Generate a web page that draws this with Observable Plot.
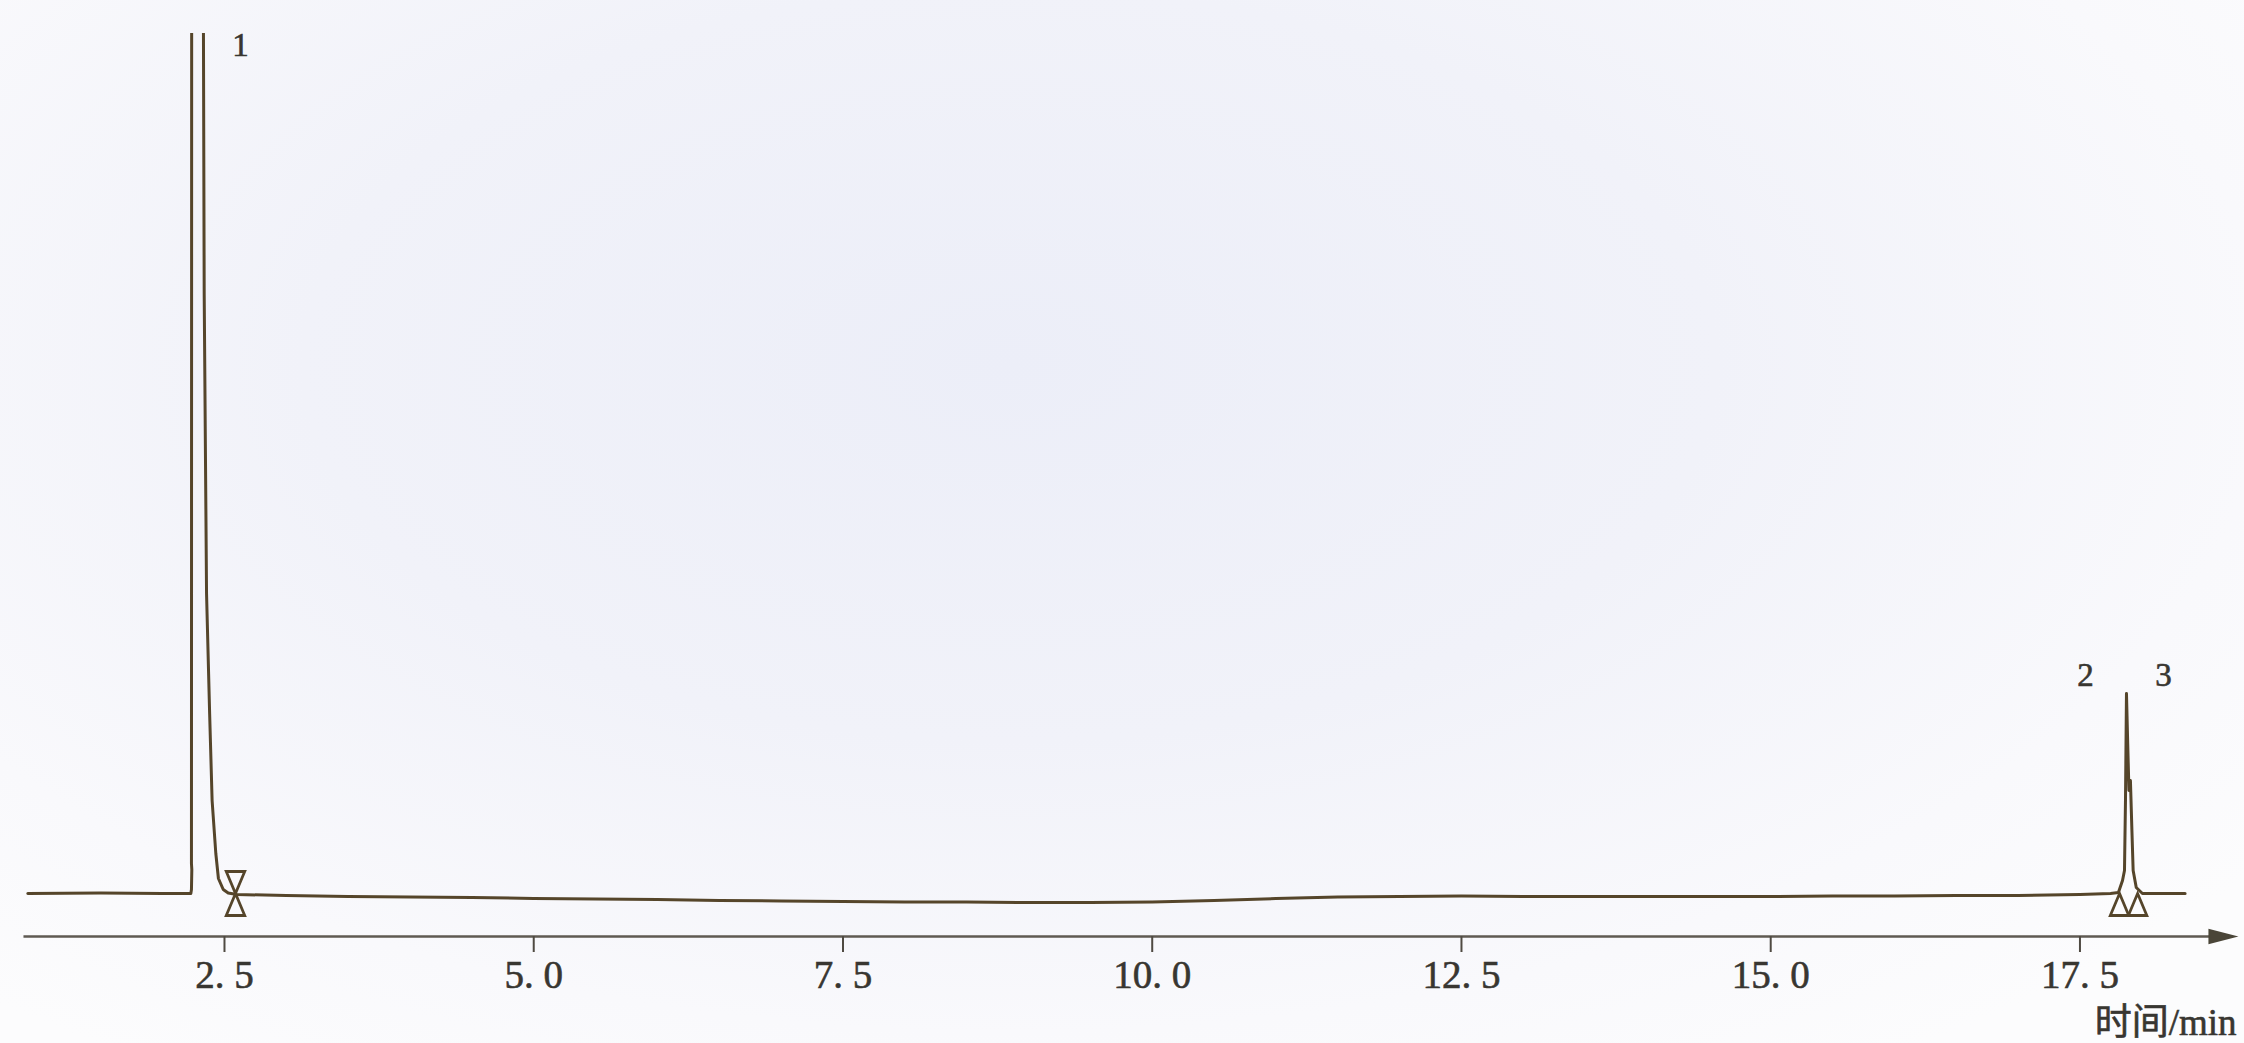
<!DOCTYPE html>
<html>
<head>
<meta charset="utf-8">
<script src="https://cdn.jsdelivr.net/npm/d3@7"></script>
<script src="https://cdn.jsdelivr.net/npm/@observablehq/plot@0.6"></script>
<style>
html, body { margin: 0; padding: 0; }
body {
  width: 2244px; height: 1043px; overflow: hidden;
  background: radial-gradient(ellipse 70% 80% at 45% 35%, #eceef8 0%, #f1f2f9 45%, #f9f9fc 80%, #fcfcfd 100%);
}
#chart svg { display: block; }
#chart svg text { stroke: #383631; stroke-width: 0.6px; }
</style>
</head>
<body>
<div id="chart"></div>
<script>
// Retention time (min) and detector signal (arbitrary units)
const time = [
  0.91, 1.5, 2.0, 2.228, 2.233, 2.236, 2.233, 2.235, 2.28, 2.330, 2.336, 2.355, 2.38, 2.400, 2.43, 2.451, 2.49, 2.53,
  2.6, 3.0, 3.5, 4.0, 4.5, 5.0, 5.5, 6.0, 6.5, 7.0, 7.5, 8.0, 8.5, 9.0, 9.5, 10.0, 10.5, 11.0, 11.5, 12.0, 12.5,
  13.0, 13.5, 14.0, 14.5, 15.0, 15.5, 16.0, 16.5, 17.0, 17.5, 17.747, 17.811, 17.844, 17.860, 17.868, 17.876,
  17.886, 17.896, 17.908, 17.920, 17.930, 17.955, 18.005, 18.35
];
const signal = [
  0, 0.05, 0, 0, 0.4, 2.4, 3.0, 100, 400, 86, 60, 30, 18, 9.3, 4, 1.5, 0.4, 0.05,
  -0.1, -0.2, -0.3, -0.35, -0.4, -0.5, -0.55, -0.6, -0.7, -0.75, -0.8, -0.85, -0.85, -0.9, -0.9, -0.85, -0.7, -0.5, -0.35, -0.3, -0.25,
  -0.3, -0.3, -0.3, -0.3, -0.3, -0.25, -0.25, -0.2, -0.2, -0.1, 0, 0.1, 1.3, 2.3, 9.3, 20,
  15, 10.3, 11.3, 6.3, 2.3, 0.6, 0, 0
];

const tickValues = [2.5, 5.0, 7.5, 10.0, 12.5, 15.0, 17.5];
const tickLabels = ["2. 5", "5. 0", "7. 5", "10. 0", "12. 5", "15. 0", "17. 5"];

const peakLabels = ["1", "2", "3"];
const peakLabelTime = [2.63, 17.545, 18.175];
const peakLabelSignal = [84.8, 21.8, 21.8];

const markerTime = [2.589, 2.589, 17.820, 17.966];
const markerSide = ["above", "below", "below", "below"];

const axisLabel = "时间/min";
const axisStart = 0.875;
const axisEnd = 18.781;

// ---- build tables ----
const trace = time.map((t, i) => ({t, s: signal[i]}));
const peaks = peakLabels.map((label, i) => ({label, t: peakLabelTime[i], s: peakLabelSignal[i]}));
const markers = markerTime.map((t, i) => ({t, side: markerSide[i]}));

const xDomain = [0.851, 18.814];
const yDomain = [-4.3, 86.0];
const traceColor = "#55452a";
const inkColor = "#383631";

// narrow triangle with its tip at the anchor point, body hanging below
const tipTriangle = {
  draw(context, size) {
    const r = Math.sqrt(size / Math.PI);
    const w = r * 0.42;
    context.moveTo(0, 0);
    context.lineTo(w, r);
    context.lineTo(-w, r);
    context.closePath();
  }
};
// arrow head with its tip at the anchor point, pointing right
const arrowHead = {
  draw(context, size) {
    const r = Math.sqrt(size / Math.PI);
    context.moveTo(0, 0);
    context.lineTo(-r, -r * 0.26);
    context.lineTo(-r, r * 0.26);
    context.closePath();
  }
};

const chart = Plot.plot({
  width: 2244,
  height: 1043,
  marginTop: 33,
  marginBottom: 107,
  marginLeft: 20,
  marginRight: 2,
  style: {
    fontFamily: "'Liberation Serif', 'DejaVu Serif', 'Noto Sans CJK SC', serif",
    fontSize: "39px",
    color: inkColor,
    background: "transparent"
  },
  x: {domain: xDomain},
  y: {domain: yDomain, axis: null},
  marks: [
    Plot.link([{x1: axisStart, x2: axisEnd - 0.15}], {
      x1: "x1", x2: "x2", y1: () => yDomain[0], y2: () => yDomain[0],
      stroke: "#5f5a52", strokeWidth: 2.4
    }),
    Plot.dot([{x: axisEnd}], {
      x: "x", y: () => yDomain[0], symbol: arrowHead, r: 30,
      fill: "#4a4538", stroke: "none"
    }),
    Plot.axisX({
      ticks: tickValues,
      tickFormat: (d) => tickLabels[tickValues.indexOf(d)],
      tickSize: 16,
      tickPadding: 8,
      stroke: "#4f4a42",
      strokeWidth: 2,
      fill: inkColor,
      fontSize: 39,
      label: null
    }),
    Plot.line(trace, {
      x: "t", y: "s", stroke: traceColor, strokeWidth: 3, clip: true
    }),
    Plot.dot(markers, {
      x: "t", y: () => 0, symbol: tipTriangle, r: 22,
      rotate: (d) => d.side === "above" ? 180 : 0,
      fill: "none", stroke: traceColor, strokeWidth: 2.8
    }),
    Plot.text(peaks, {
      x: "t", y: "s", text: "label", fontSize: 33, fill: inkColor,
      textAnchor: "middle", lineAnchor: "middle"
    }),
    Plot.text([axisLabel], {
      text: (d) => d, frameAnchor: "bottom-right", dx: -6, dy: 87,
      textAnchor: "end", lineAnchor: "middle", fontSize: 37, fill: inkColor
    })
  ]
});

document.getElementById("chart").appendChild(chart);
</script>
</body>
</html>
